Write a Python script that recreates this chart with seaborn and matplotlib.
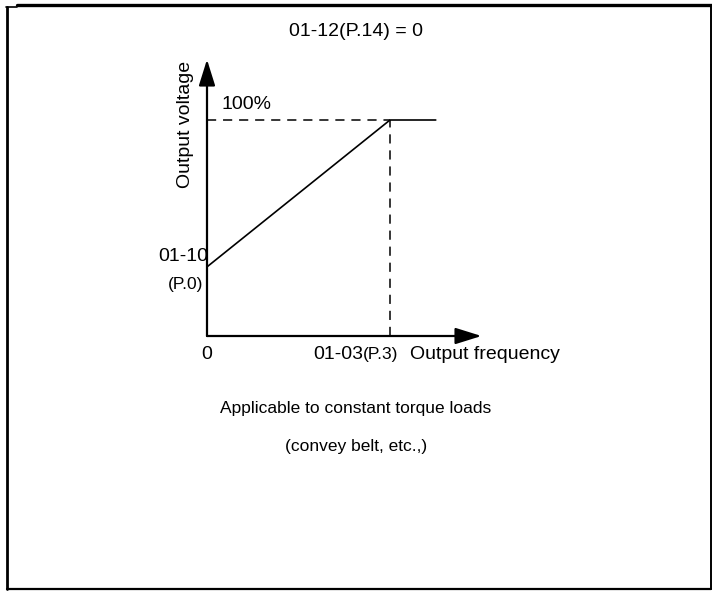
import matplotlib
matplotlib.use("Agg")
import matplotlib.pyplot as plt
import seaborn as sns
import pandas as pd
from matplotlib.lines import Line2D

# V/f curve data (frequency in units of base frequency 01-03, voltage in %)
freq = [0.0, 1.0, 1.25]
volt = [32, 100, 100]
base_freq = 1.0
full_volt = 100
axis_x_end = 1.50
axis_y_end = 128

title = "01-12(P.14) = 0"
note_1 = "Applicable to constant torque loads"
note_2 = "(convey belt, etc.,)"

sns.set_style("white")
plt.rcParams["font.family"] = ["Liberation Sans", "DejaVu Sans"]
plt.rcParams["text.color"] = "black"

fig = plt.figure(figsize=(7.12, 5.91), dpi=100)
ax = fig.add_axes([0, 0, 1, 1])
# axis scale chosen so origin sits at the diagram's origin
ax.set_xlim(-207 / 183, (712 - 207) / 183)
ax.set_ylim((336 - 591) / 2.16, 336 / 2.16)
ax.axis("off")

df = pd.DataFrame({"freq": freq, "volt": volt})
sns.lineplot(data=df, x="freq", y="volt", color="black", lw=1.2, ax=ax, sort=False)

# dashed guide lines
ax.plot([0, base_freq], [full_volt, full_volt], color="black", lw=1.1,
        ls=(0, (6, 4.5)))
ax.plot([base_freq, base_freq], [0, full_volt], color="black", lw=1.1,
        ls=(0, (6, 4.5)))

# axes with arrows
arrow = dict(arrowstyle="-|>,head_length=1.6,head_width=0.5", color="black",
             lw=1.6, shrinkA=0, shrinkB=0, mutation_scale=10)
ax.annotate("", xy=(axis_x_end, 0), xytext=(0, 0), arrowprops=arrow)
ax.annotate("", xy=(0, axis_y_end), xytext=(0, 0), arrowprops=arrow)

fs = 14
small = 12.5
ax.text(0.08, full_volt + 7, "100%", fontsize=fs, ha="left", va="center")
ax.text(0.005, volt[0] + 5, "01-10", fontsize=fs, ha="right", va="center")
ax.text(-0.02, volt[0] - 8, "(P.0)", fontsize=small, ha="right", va="center")
ax.text(0.0, -8.5, "0", fontsize=fs, ha="center", va="center")
ax.text(0.852, -8.5, "01-03", fontsize=fs, ha="right", va="center")
ax.text(0.852, -8.5, "(P.3)", fontsize=small, ha="left", va="center")
ax.text(1.109, -8.5, "Output frequency", fontsize=fs, ha="left", va="center")
ax.text(-0.12, 98, "Output voltage", fontsize=fs, rotation=90, ha="center",
        va="center")

fig.text(356 / 712, 1 - 31 / 591, title, fontsize=fs, ha="center", va="center")
fig.text(356 / 712, 1 - 408 / 591, note_1, fontsize=12.5, ha="center", va="center")
fig.text(356 / 712, 1 - 447 / 591, note_2, fontsize=12.5, ha="center", va="center")

# outer frame
W, H = 712, 591
def px(x, y):
    return x / W, 1 - y / H

frame = [
    ([17, 712], [5, 5], 2.4),
    ([6, 17], [7, 7], 1.2),
    ([7, 7], [7, 589], 2.0),
    ([7, 711], [588.5, 588.5], 1.6),
    ([710.5, 710.5], [5, 589], 1.4),
]
for xs, ys, w in frame:
    p0, p1 = px(xs[0], ys[0]), px(xs[1], ys[1])
    fig.add_artist(Line2D([p0[0], p1[0]], [p0[1], p1[1]], color="black", lw=w))

fig.savefig("out.png", dpi=100)
